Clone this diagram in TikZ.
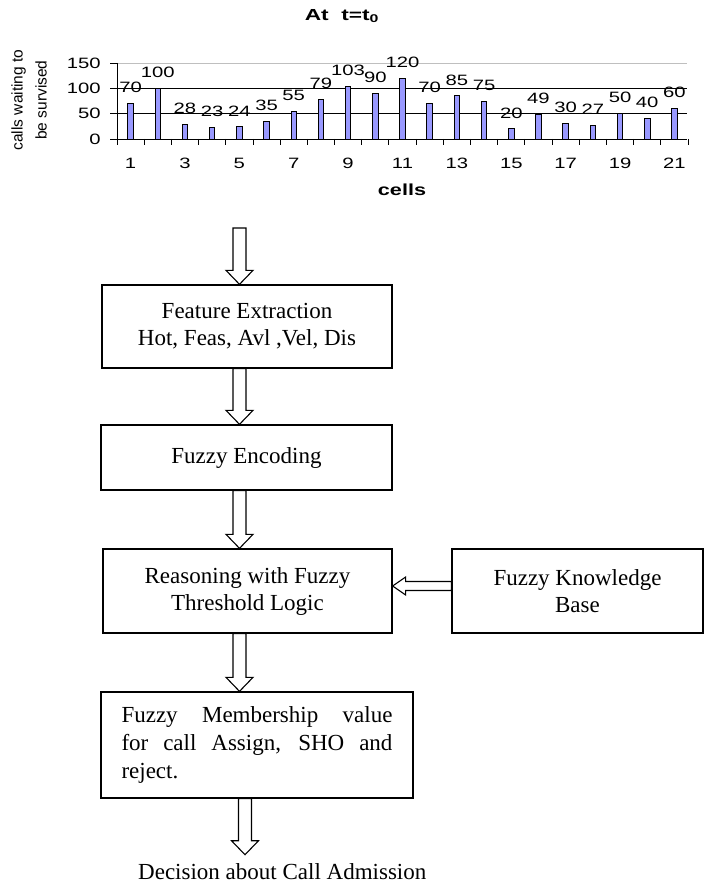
\documentclass[tikz,border=0pt]{standalone}
\usepackage{fontspec}
\setmainfont{Liberation Serif}
\setsansfont{Liberation Sans}
\usetikzlibrary{calc}
\usepackage{xcolor}
\definecolor{barblue}{RGB}{153,153,255}

\tikzset{
  box/.style={draw, line width=1.3pt, inner sep=0, align=center, font=\fontsize{23}{27}\selectfont},
  fat/.style={draw, line width=1.1pt, fill=white, line join=miter},
  chart/.style={font=\sffamily\fontsize{15}{18}\selectfont, xscale=1.35, inner sep=0},
  chartbold/.style={font=\sffamily\bfseries\fontsize{16}{18}\selectfont, xscale=1.35, inner sep=0},
}

% hollow block arrows: #1 start, #2 tip
\newcommand{\fatdown}[2]{%
  \draw[fat] ($(#1)+(-6.5,0)$) -- ($(#2)+(-6.5,-14)$) -- ($(#2)+(-13.5,-14)$) -- (#2)
    -- ($(#2)+(13.5,-14)$) -- ($(#2)+(6.5,-14)$) -- ($(#1)+(6.5,0)$) -- cycle;}
\newcommand{\fatleft}[2]{%
  \draw[fat] ($(#1)+(0,-4.5)$) -- ($(#2)+(13,-4.5)$) -- ($(#2)+(13,-9)$) -- (#2)
    -- ($(#2)+(13,9)$) -- ($(#2)+(13,4.5)$) -- ($(#1)+(0,4.5)$) -- cycle;}

\begin{document}
\begin{tikzpicture}[x=1pt, y=-1pt]
\useasboundingbox (0,0) rectangle (704,885);

% the chart
\node[chartbold, xscale=1.05] (title) at (342,16) {At\ \ t=t\textsubscript{0}};
\node[font=\sffamily\fontsize{15.5}{24}\selectfont, rotate=90, align=center, inner sep=0] (ylab) at (29,100) {calls waiting to\\be survised};

\draw[black!25, line width=0.8pt] (117,63) -- (687,63);
\draw[line width=0.8pt] (117,88.3) -- (687,88.3);
\draw[line width=0.8pt] (117,113.7) -- (687,113.7);
\draw[line width=0.9pt] (117,63) -- (117,139) -- (687,139);

\node[chart, anchor=east] (y150) at (101,63) {150};
\node[chart, anchor=east] (y100) at (101,88.3) {100};
\node[chart, anchor=east] (y50) at (101,113.7) {50};
\node[chart, anchor=east] (y0) at (101,139) {0};
\draw[line width=0.9pt] (110,63) -- (117,63) (110,88.3) -- (117,88.3) (110,113.7) -- (117,113.7) (110,139) -- (117,139);

\foreach \k in {0,...,21}
  \draw[line width=0.9pt] ({117+\k*27.19},139) -- ({117+\k*27.19},145);

\foreach \v [count=\i] in {70,100,28,23,24,35,55,79,103,90,120,70,85,75,20,49,30,27,50,40,60} {
  \draw[fill=barblue, line width=0.9pt] ({117+(\i-0.5)*27.19-2.75},139) rectangle ({117+(\i-0.5)*27.19+2.75},{139-0.5067*\v});
  \node[chart] (val\i) at ({117+(\i-0.5)*27.19},{139-0.5067*\v-16}) {\v};
}
\foreach \i in {1,3,...,21}
  \node[chart] (cell\i) at ({117+(\i-0.5)*27.19},163) {\i};
\node[chartbold] (xlab) at (402,190) {cells};

% the flow
\node[box, minimum width=290, minimum height=83] (fe) at (247,326.5) {Feature Extraction\\Hot, Feas, Avl ,Vel, Dis};
\node[box, minimum width=291, minimum height=65] (fen) at (246.5,457.5) {Fuzzy Encoding};
\node[box, minimum width=289, minimum height=84] (fr) at (247.5,591) {Reasoning with Fuzzy\\Threshold Logic};
\node[box, minimum width=251, minimum height=84] (kb) at (577.5,591) {Fuzzy Knowledge\\Base};
\node[box, minimum width=312, minimum height=106, text width=271, align=justify, font=\fontsize{23}{28}\selectfont] (fm) at (257,745)
  {Fuzzy Membership value\linebreak for call Assign, SHO and\linebreak reject.};
\node[font=\fontsize{23}{27}\selectfont, inner sep=0, anchor=west] (dec) at (138,872) {Decision about Call Admission};

\coordinate (ax) at (239.5,0);
\coordinate (bx) at (245,0);
\coordinate (hy) at (0,586);
\coordinate (in) at (239.5,228);

\fatdown{in}{fe.north -| ax}
\fatdown{fe.south -| ax}{fen.north -| ax}
\fatdown{fen.south -| ax}{fr.north -| ax}
\fatdown{fr.south -| ax}{fm.north -| ax}
\fatdown{fm.south -| bx}{$(dec.north -| bx)+(0,-9)$}
\fatleft{kb.west |- hy}{fr.east |- hy}

\end{tikzpicture}
\end{document}
